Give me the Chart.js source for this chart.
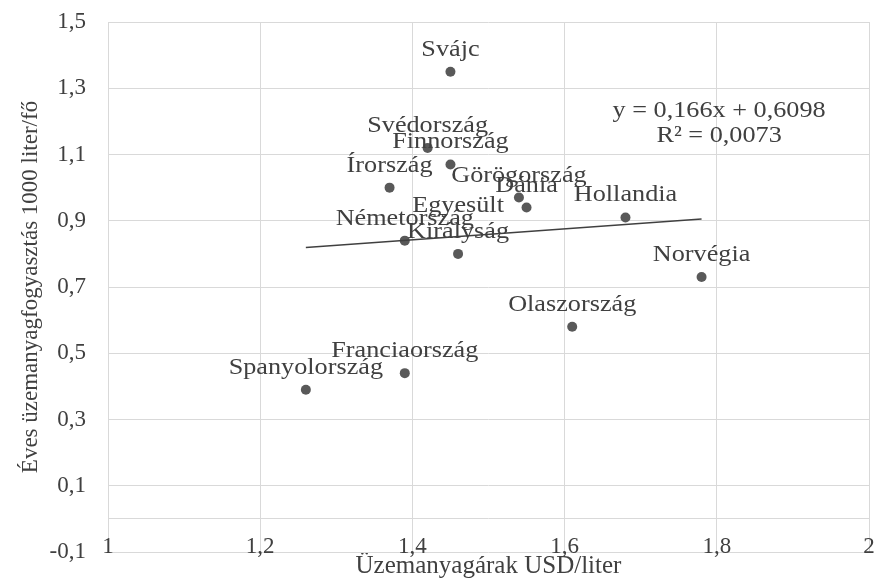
<!DOCTYPE html>
<html>
<head>
<meta charset="utf-8">
<script src="https://cdn.jsdelivr.net/npm/chart.js@4/dist/chart.umd.min.js"></script>
<style>
  html, body { margin: 0; padding: 0; background: #fff; }
  #wrap { width: 875px; height: 585px; }
</style>
</head>
<body>
<div id="wrap"><canvas id="myChart"></canvas></div>
<script>
const countries = ["Svájc", "Svédország", "Finnország", "Írország", "Görögország", "Dánia",
  "Németország", "Egyesült Királyság", "Hollandia", "Norvégia", "Olaszország", "Franciaország", "Spanyolország"];
const prices = [1.45, 1.42, 1.45, 1.37, 1.54, 1.55, 1.39, 1.46, 1.68, 1.78, 1.61, 1.39, 1.26];
const consumption = [1.35, 1.12, 1.07, 1.0, 0.97, 0.94, 0.84, 0.8, 0.91, 0.73, 0.58, 0.44, 0.39];
const yTicks = [-0.1, 0, 0.1, 0.3, 0.5, 0.7, 0.9, 1.1, 1.3, 1.5];
const xTicks = [1, 1.2, 1.4, 1.6, 1.8, 2];
const slope = 0.166;
const intercept = 0.6098;
const trendText = ["y = 0,166x + 0,6098", "R² = 0,0073"];

const textColor = "#404040";
const serif = "'Liberation Serif', 'Times New Roman', serif";

const points = prices.map((p, i) => ({ x: p, y: consumption[i] }));
const xMin = Math.min(...prices);
const xMax = Math.max(...prices);
const trend = [
  { x: xMin, y: slope * xMin + intercept },
  { x: xMax, y: slope * xMax + intercept },
];

const fmt = (v) => String(Math.round(v * 10) / 10).replace(".", ",");

// the source picture is a bit wider than tall, so stretch the free text a little
function wideText(ctx, txt, x, y) {
  ctx.save();
  ctx.translate(x, y);
  ctx.scale(1.14, 1);
  ctx.fillText(txt, 0, 0);
  ctx.restore();
}

// country names above the dots, equation text near the top right
const labelPlugin = {
  id: "pointLabels",
  afterDatasetsDraw(chart) {
    const ctx = chart.ctx;
    const meta = chart.getDatasetMeta(1);
    ctx.save();
    ctx.fillStyle = textColor;
    ctx.font = "23px " + serif;
    ctx.textAlign = "center";
    ctx.textBaseline = "middle";
    meta.data.forEach((pt, i) => {
      const name = countries[i];
      if (name === "Egyesült Királyság") {
        wideText(ctx, "Egyesült", pt.x, pt.y - 48);
        wideText(ctx, "Királyság", pt.x, pt.y - 22);
      } else {
        wideText(ctx, name, pt.x, pt.y - 22);
      }
    });
    const sx = chart.scales.x;
    const sy = chart.scales.y;
    wideText(ctx, trendText[0], sx.getPixelForValue(1.803), sy.getPixelForValue(1.23));
    wideText(ctx, trendText[1], sx.getPixelForValue(1.803), sy.getPixelForValue(1.155));
    ctx.restore();
  },
};

new Chart("myChart", {
  data: {
    datasets: [
      {
        type: "line",
        data: trend,
        borderColor: "#404040",
        borderWidth: 1.5,
        pointRadius: 0,
        fill: false,
      },
      {
        type: "scatter",
        data: points,
        backgroundColor: "#595959",
        borderWidth: 0,
        pointRadius: 5,
      },
    ],
  },
  options: {
    responsive: true,
    maintainAspectRatio: false,
    animation: false,
    layout: { padding: { top: 22, right: 6, left: 0, bottom: 0 } },
    plugins: {
      legend: { display: false },
      tooltip: { enabled: false },
    },
    scales: {
      x: {
        type: "linear",
        min: 1,
        max: 2,
        afterBuildTicks: (s) => { s.ticks = xTicks.map((v) => ({ value: v })); },
        afterFit: (s) => {
          s.height = 33;
          s.paddingLeft = 0;
          s.paddingRight = 0;
        },
        // tick labels sit on top of the lowest grid line, so don't clip them to the axis box
        afterUpdate: (s) => { s._computeLabelArea = () => undefined; },
        grid: { color: "#d9d9d9", drawTicks: false },
        border: { display: false },
        ticks: {
          padding: -19,
          color: textColor,
          font: { family: serif, size: 23 },
          callback: (v) => fmt(v),
        },
        title: {
          display: true,
          text: "Üzemanyagárak USD/liter",
          color: textColor,
          font: { family: serif, size: 25 },
          padding: { top: 0, bottom: 4 },
        },
      },
      y: {
        type: "linear",
        min: -0.1,
        max: 1.5,
        afterBuildTicks: (s) => { s.ticks = yTicks.map((v) => ({ value: v })); },
        afterFit: (s) => {
          s.width = 108;
          s.paddingTop = 0;
          s.paddingBottom = 0;
        },
        grid: { color: "#d9d9d9", drawTicks: false },
        border: { display: false },
        ticks: {
          padding: 22,
          color: textColor,
          font: { family: serif, size: 23 },
          callback: (v) => (v === 0 ? "" : fmt(v)),
        },
        title: {
          display: true,
          text: "Éves üzemanyagfogyasztás 1000 liter/fő",
          color: textColor,
          font: { family: serif, size: 23 },
          padding: { top: 17, bottom: 0 },
        },
      },
    },
  },
  plugins: [labelPlugin],
});
</script>
</body>
</html>
